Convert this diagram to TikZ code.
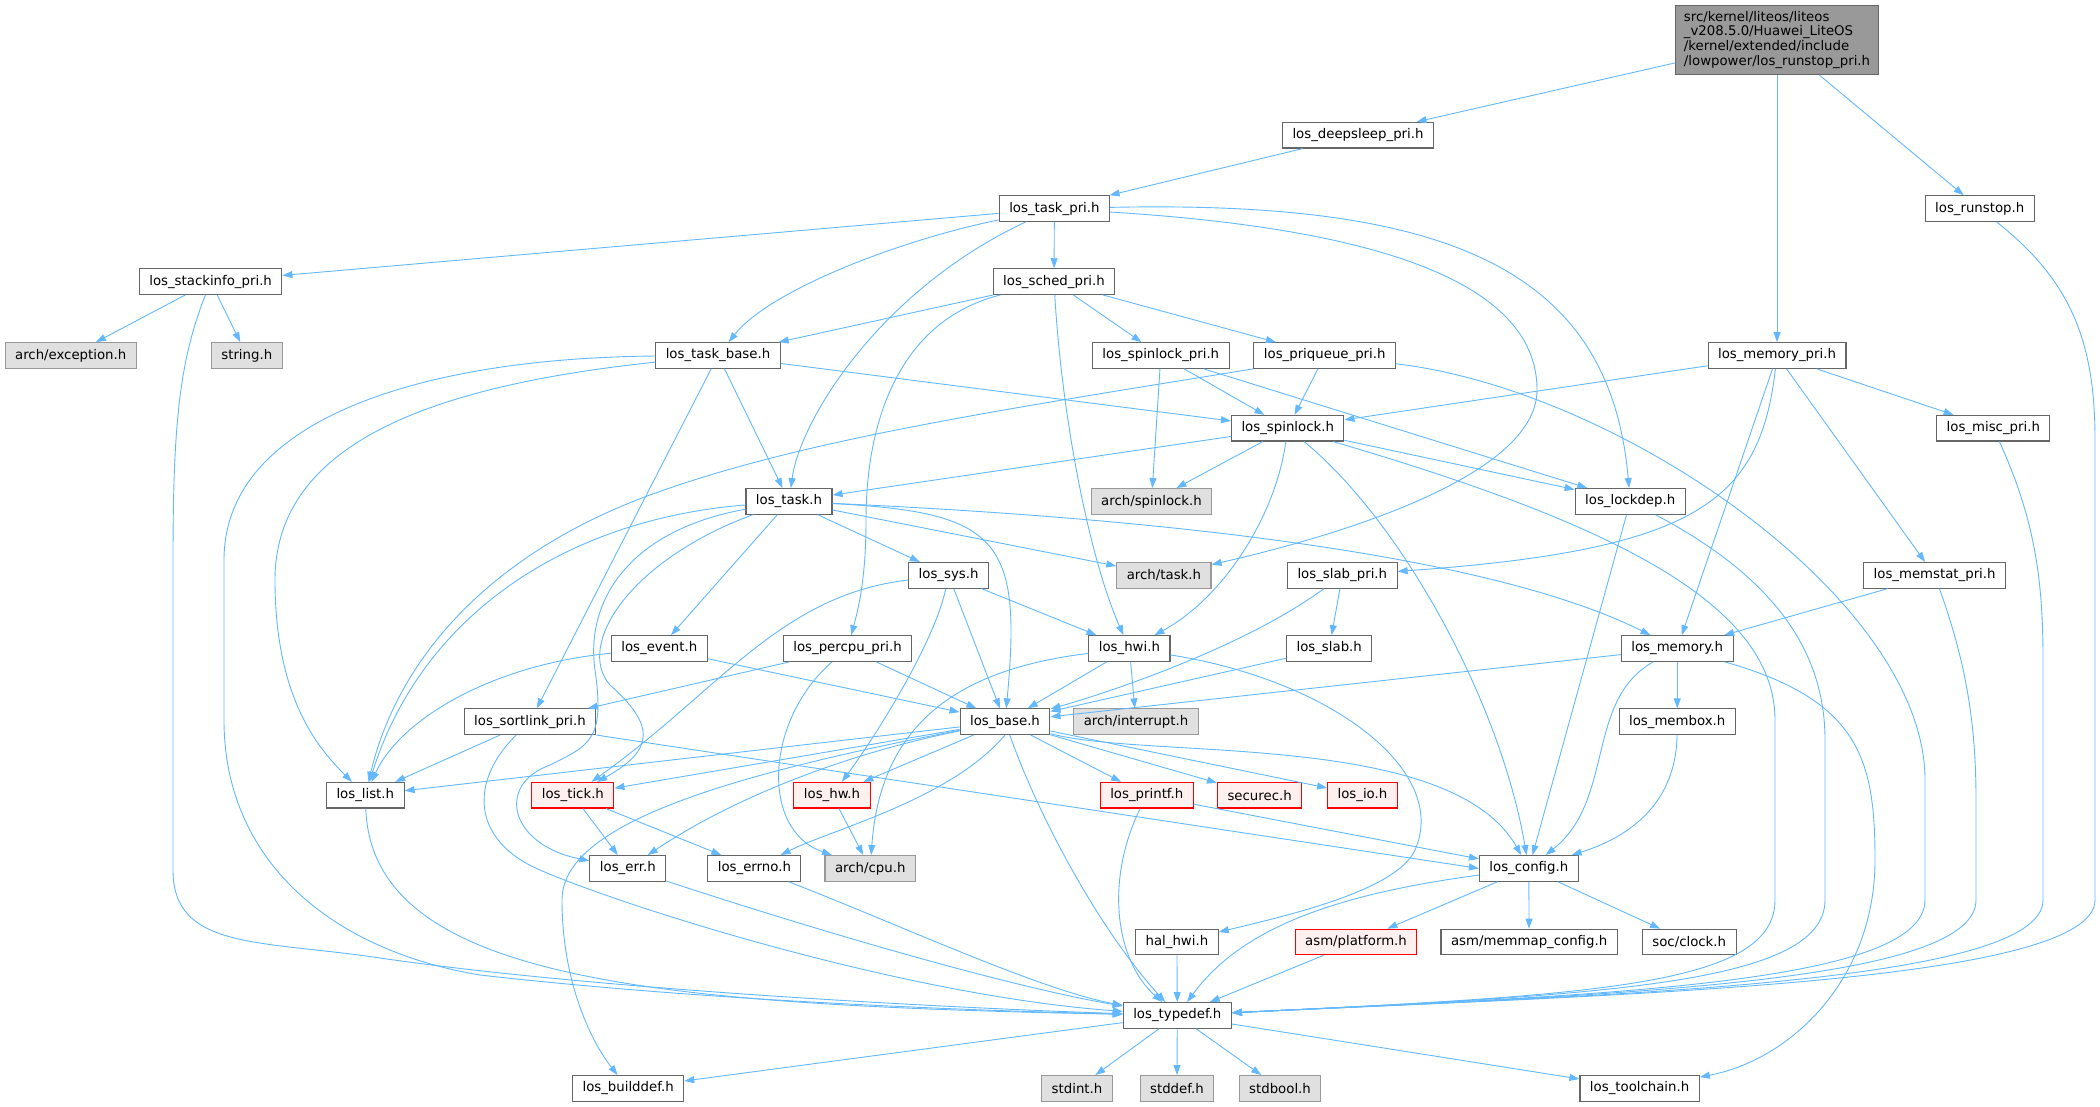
\documentclass[tikz,border=0pt]{standalone}
\usepackage{fontspec}
\setmainfont{DejaVu Sans}
\usetikzlibrary{arrows.meta}
\definecolor{depblue}{HTML}{63B8FF}
\definecolor{nodegray}{HTML}{666666}
\definecolor{sysborder}{HTML}{999999}
\definecolor{sysfill}{HTML}{E0E0E0}
\definecolor{truncfill}{HTML}{FFF0F0}
\definecolor{mainfill}{HTML}{999999}

\begin{document}
\begin{tikzpicture}[x=1pt, y={(0pt,-1pt)},
  hdr/.style={draw=nodegray, fill=white, line width=1.1pt, minimum height=25.6pt, inner xsep=10pt, inner ysep=0pt, font=\fontsize{13.3pt}{14.7pt}\selectfont},
  syshdr/.style={hdr, draw=sysborder, fill=sysfill},
  trunchdr/.style={hdr, draw=red, fill=truncfill},
  mainhdr/.style={hdr, fill=mainfill, align=left, inner xsep=8pt, inner ysep=6pt},
  dep/.style={draw=depblue, line width=0.9pt, -{Triangle[length=10pt,width=7pt]}}]
\useasboundingbox (0,0) rectangle (2100,1107);

\node[mainhdr] (runstoppri) at (1777,39.8) {src/kernel/liteos/liteos\\\_v208.5.0/Huawei\_LiteOS\\/kernel/extended/include\\/lowpower/los\_runstop\_pri.h};
\node[hdr] (deepsleep) at (1358,135.2) {los\_deepsleep\_pri.h};
\node[hdr] (taskpri) at (1054.4,208.6) {los\_task\_pri.h};
\node[hdr] (runstop) at (1979.7,208.6) {los\_runstop.h};
\node[hdr] (stackinfo) at (210.6,281.6) {los\_stackinfo\_pri.h};
\node[hdr] (sched) at (1054,281.6) {los\_sched\_pri.h};
\node[syshdr] (exception) at (70.7,355.5) {arch/exception.h};
\node[syshdr] (string) at (246.8,355.5) {string.h};
\node[hdr] (taskbase) at (718,355.5) {los\_task\_base.h};
\node[hdr] (spinlockpri) at (1160.8,355.5) {los\_spinlock\_pri.h};
\node[hdr] (priqueue) at (1324.7,355.5) {los\_priqueue\_pri.h};
\node[hdr] (memorypri) at (1777,355.5) {los\_memory\_pri.h};
\node[hdr] (spinlock) at (1287.7,428.2) {los\_spinlock.h};
\node[hdr] (miscpri) at (1993.3,428.2) {los\_misc\_pri.h};
\node[hdr] (task) at (789,501.4) {los\_task.h};
\node[syshdr] (archspinlock) at (1151.5,501.4) {arch/spinlock.h};
\node[hdr] (lockdep) at (1630.2,501.4) {los\_lockdep.h};
\node[hdr] (sys) at (948.6,575.3) {los\_sys.h};
\node[syshdr] (archtask) at (1163.9,575.3) {arch/task.h};
\node[hdr] (slabpri) at (1342.3,575.3) {los\_slab\_pri.h};
\node[hdr] (memstat) at (1934.6,575.3) {los\_memstat\_pri.h};
\node[hdr] (event) at (659.3,648.5) {los\_event.h};
\node[hdr] (percpu) at (847.5,648.5) {los\_percpu\_pri.h};
\node[hdr] (hwi) at (1129.4,648.5) {los\_hwi.h};
\node[hdr] (slab) at (1329.2,648.5) {los\_slab.h};
\node[hdr] (memory) at (1677.2,648.5) {los\_memory.h};
\node[hdr] (sortlink) at (530,721.7) {los\_sortlink\_pri.h};
\node[hdr] (base) at (1005,721.7) {los\_base.h};
\node[syshdr] (interrupt) at (1136,721.7) {arch/interrupt.h};
\node[hdr] (membox) at (1677.2,721.7) {los\_membox.h};
\node[hdr] (list) at (365.3,795.2) {los\_list.h};
\node[trunchdr] (tick) at (572.9,795.2) {los\_tick.h};
\node[trunchdr] (hw) at (832,795.2) {los\_hw.h};
\node[trunchdr] (printf) at (1146.8,795.2) {los\_printf.h};
\node[trunchdr] (securec) at (1259.6,795.2) {securec.h};
\node[trunchdr] (io) at (1362.4,795.2) {los\_io.h};
\node[hdr] (err) at (627.8,868.4) {los\_err.h};
\node[hdr] (errno) at (754.4,868.4) {los\_errno.h};
\node[syshdr] (cpu) at (870.2,868.4) {arch/cpu.h};
\node[hdr] (config) at (1528.8,868.4) {los\_config.h};
\node[hdr] (halhwi) at (1176.9,942) {hal\_hwi.h};
\node[trunchdr] (platform) at (1356,942) {asm/platform.h};
\node[hdr] (memmap) at (1529.1,942) {asm/memmap\_config.h};
\node[hdr] (clock) at (1689.2,942) {soc/clock.h};
\node[hdr] (typedef) at (1177.3,1015.4) {los\_typedef.h};
\node[hdr] (builddef) at (628.1,1088.4) {los\_builddef.h};
\node[syshdr] (stdint) at (1077,1088.4) {stdint.h};
\node[syshdr] (stddef) at (1176.9,1088.4) {stddef.h};
\node[syshdr] (stdbool) at (1280,1088.4) {stdbool.h};
\node[hdr] (toolchain) at (1639.6,1088.4) {los\_toolchain.h};

\draw[dep] (runstoppri) -- (deepsleep);
\draw[dep] (runstoppri) -- (memorypri);
\draw[dep] (runstoppri) -- (runstop);
\draw[dep] (deepsleep) -- (taskpri);
\draw[dep] (taskpri) -- (stackinfo);
\draw[dep] (taskpri) .. controls (900,240) and (770,290) .. (taskbase);
\draw[dep] (taskpri) .. controls (880,290) and (800,420) .. (task);
\draw[dep] (taskpri) -- (sched);
\draw[dep] (taskpri) .. controls (1400,230) and (1537,290) .. (1537,390) .. controls (1537,480) and (1320,540) .. (archtask);
\draw[dep] (taskpri) .. controls (1450,200) and (1610,270) .. (lockdep);
\draw[dep] (stackinfo) -- (exception);
\draw[dep] (stackinfo) -- (string);
\draw[dep] (stackinfo) .. controls (180,360) and (173,420) .. (173,560) -- (173,870) .. controls (173,950) and (260,940) .. (380,958) .. controls (600,990) and (950,1008) .. (typedef);
\draw[dep] (sched) -- (taskbase);
\draw[dep] (sched) -- (spinlockpri);
\draw[dep] (sched) -- (priqueue);
\draw[dep] (sched) .. controls (900,320) and (866,420) .. (866,520) .. controls (866,580) and (858,610) .. (percpu);
\draw[dep] (sched) .. controls (1062,420) and (1090,560) .. (hwi);
\draw[dep] (taskbase) -- (spinlock);
\draw[dep] (taskbase) -- (task);
\draw[dep] (taskbase) -- (sortlink);
\draw[dep] (taskbase) .. controls (440,385) and (275,440) .. (275,580) .. controls (275,700) and (320,750) .. (list);
\draw[dep] (taskbase) .. controls (420,358) and (224,420) .. (224,560) -- (224,720) .. controls (224,860) and (330,950) .. (480,975) .. controls (700,1000) and (950,1010) .. (typedef);
\draw[dep] (spinlockpri) -- (archspinlock);
\draw[dep] (spinlockpri) -- (spinlock);
\draw[dep] (spinlockpri) -- (lockdep);
\draw[dep] (priqueue) -- (spinlock);
\draw[dep] (priqueue.south west) .. controls (1000,410) and (800,440) .. (650,495) .. controls (500,550) and (400,650) .. (list);
\draw[dep] (priqueue) .. controls (1620,390) and (1925,600) .. (1925,780) -- (1925,900) .. controls (1925,985) and (1600,995) .. (typedef);
\draw[dep] (spinlock) -- (task);
\draw[dep] (spinlock) -- (archspinlock);
\draw[dep] (spinlock) -- (lockdep);
\draw[dep] (spinlock) .. controls (1275,520) and (1220,600) .. (hwi);
\draw[dep] (spinlock) .. controls (1400,520) and (1500,700) .. (config);
\draw[dep] (spinlock) .. controls (1600,520) and (1775,600) .. (1775,720) -- (1775,900) .. controls (1775,985) and (1600,995) .. (typedef);
\draw[dep] (lockdep) -- (config);
\draw[dep] (lockdep) .. controls (1760,570) and (1825,640) .. (1825,740) -- (1825,900) .. controls (1825,985) and (1600,995) .. (typedef);
\draw[dep] (memorypri) -- (spinlock);
\draw[dep] (memorypri) -- (miscpri);
\draw[dep] (memorypri) -- (memstat);
\draw[dep] (memorypri) -- (memory);
\draw[dep] (memorypri) .. controls (1760,500) and (1700,550) .. (slabpri);
\draw[dep] (miscpri) .. controls (2035,520) and (2043,580) .. (2043,660) -- (2043,900) .. controls (2043,985) and (1600,995) .. (typedef);
\draw[dep] (runstop) .. controls (2070,280) and (2095,340) .. (2095,440) -- (2095,900) .. controls (2095,985) and (1600,995) .. (typedef);
\draw[dep] (memstat) -- (memory);
\draw[dep] (memstat) .. controls (1965,660) and (1976,720) .. (1976,800) -- (1976,900) .. controls (1976,985) and (1600,995) .. (typedef);
\draw[dep] (memory) -- (base);
\draw[dep] (memory) -- (membox);
\draw[dep] (memory) .. controls (1585,700) and (1615,800) .. (config);
\draw[dep] (memory) .. controls (1860,700) and (1875,760) .. (1875,860) .. controls (1875,980) and (1790,1060) .. (toolchain);
\draw[dep] (membox) .. controls (1676,810) and (1620,840) .. (config);
\draw[dep] (slabpri) -- (slab);
\draw[dep] (slabpri) .. controls (1240,650) and (1100,695) .. (base);
\draw[dep] (slab) -- (base);
\draw[dep] (hwi) -- (base);
\draw[dep] (hwi) -- (interrupt);
\draw[dep] (hwi) .. controls (950,670) and (880,730) .. (cpu);
\draw[dep] (hwi) .. controls (1330,680) and (1450,770) .. (1415,850) .. controls (1397,890) and (1290,915) .. (halhwi);
\draw[dep] (sys) -- (hwi);
\draw[dep] (sys) -- (base);
\draw[dep] (sys) .. controls (935,640) and (880,730) .. (hw);
\draw[dep] (sys) .. controls (780,595) and (720,690) .. (tick);
\draw[dep] (task) -- (sys);
\draw[dep] (task) -- (event);
\draw[dep] (task) -- (archtask);
\draw[dep] (task) .. controls (1000,512) and (1022,540) .. (base);
\draw[dep] (task) .. controls (1200,520) and (1500,560) .. (memory);
\draw[dep] (task) .. controls (560,520) and (420,620) .. (list);
\draw[dep] (task) .. controls (630,560) and (575,645) .. (610,685) .. controls (655,725) and (655,750) .. (tick);
\draw[dep] (task) .. controls (630,530) and (585,600) .. (595,670) .. controls (605,740) and (590,745) .. (550,765) .. controls (495,785) and (510,845) .. (err);
\draw[dep] (event) .. controls (490,665) and (400,720) .. (list);
\draw[dep] (event) -- (base);
\draw[dep] (percpu) -- (sortlink);
\draw[dep] (percpu) -- (base);
\draw[dep] (percpu) .. controls (765,720) and (760,830) .. (cpu);
\draw[dep] (sortlink) -- (list);
\draw[dep] (sortlink.south east) -- (config.west);
\draw[dep] (sortlink) .. controls (470,780) and (470,840) .. (540,870) .. controls (620,905) and (900,995) .. (typedef);
\draw[dep] (list) .. controls (372,980) and (650,1005) .. (typedef);
\draw[dep] (base) -- (list);
\draw[dep] (base) -- (tick);
\draw[dep] (base) -- (hw);
\draw[dep] (base) .. controls (840,755) and (730,800) .. (err);
\draw[dep] (base.south) .. controls (950,800) and (830,830) .. (errno);
\draw[dep] (base) -- (printf);
\draw[dep] (base) -- (securec);
\draw[dep] (base) -- (io);
\draw[dep] (base) .. controls (1150,760) and (1450,730) .. (config);
\draw[dep] (base) .. controls (1040,820) and (1100,930) .. (typedef);
\draw[dep] (base) .. controls (700,780) and (562,830) .. (562,900) .. controls (562,980) and (590,1040) .. (builddef);
\draw[dep] (printf) -- (config);
\draw[dep] (printf) .. controls (1105,880) and (1115,960) .. (typedef);
\draw[dep] (tick) -- (err);
\draw[dep] (tick) -- (errno);
\draw[dep] (err) .. controls (800,925) and (1000,985) .. (typedef);
\draw[dep] (errno) .. controls (900,925) and (1040,990) .. (typedef);
\draw[dep] (hw) -- (cpu);
\draw[dep] (config) .. controls (1330,895) and (1240,930) .. (typedef);
\draw[dep] (config) -- (platform);
\draw[dep] (config) -- (memmap);
\draw[dep] (config) -- (clock);
\draw[dep] (halhwi) -- (typedef);
\draw[dep] (platform) -- (typedef);
\draw[dep] (typedef) -- (builddef);
\draw[dep] (typedef) -- (stdint);
\draw[dep] (typedef) -- (stddef);
\draw[dep] (typedef) -- (stdbool);
\draw[dep] (typedef) -- (toolchain);
\end{tikzpicture}
\end{document}
